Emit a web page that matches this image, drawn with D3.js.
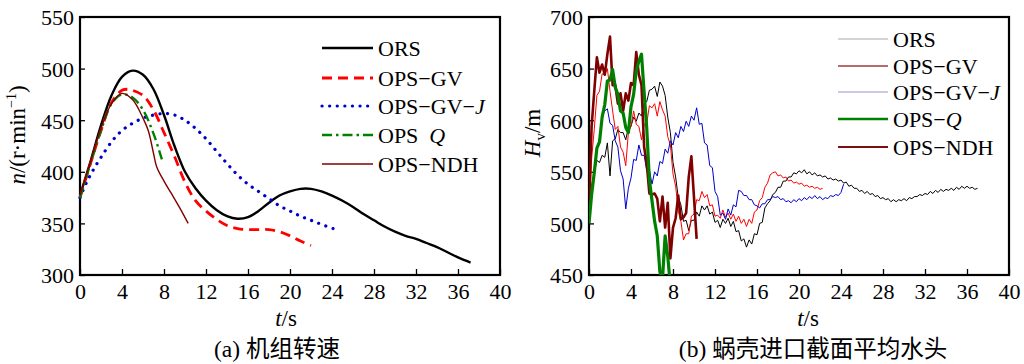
<!DOCTYPE html>
<html><head><meta charset="utf-8">
<script src="https://cdn.jsdelivr.net/npm/d3@7"></script>
<style>
body{margin:0;background:#fff;}
</style></head>
<body><svg id="c" width="1024" height="364"></svg>
<script>
// ---------- Data: panel (a) speed n (r/min) ----------
const xTicks = [0,4,8,12,16,20,24,28,32,36,40];
const nTicks = [300,350,400,450,500,550];
const hTicks = [450,500,550,600,650,700];

const ors_n_t = [0,1,2,3,4,5,6,7,8,9,10,11,12,13,14,15,16,17,18,19,20,21,22,23,24,25,26,27,28,29,30,31,32,33,34,35,36,37.2];
const ors_n   = [377,410,445,474,492,498,494,480,455,425,400,384,372,363,357,354.5,356,362,370,377,381,383.5,383.5,381,377,372,366,359,353,347,342,338,335,331,327,322,317,312];
const gv_n_t  = [0,1,2,3,4,4.5,5,6,7,8,9,10,11,12,13,14,15,16,17,18,19,20,21,22];
const gv_n    = [375,408,440,467,479,480,479,474,460,438,415,390,372,362,354,348,345,344,344,344,342,338,333,328.5];
const gvj_n_t = [0,0.5,1,1.5,2,3,4,5,6,7,8,9,10,11,12,13,14,15,16,17,18,19,20,21,22,23,24.1];
const gvj_n   = [375,387,397,406,414,429,440,447,452,455,456.5,455,450,442,432,420,408,397,388,381,374,367,362,357,353,349,345];
const q_n_t   = [0,1,2,3,4,5,6,7,7.8];
const q_n     = [375,408,440,466,475,472,460,437,412];
const ndh_n_t = [0,1,2,3,4,5,6,6.5,7,7.3,8,8.7,9.5,10.3];
const ndh_n   = [377,410,442,466,476,470,452,440,418,405,391,379,365,350];

// ---------- Data: panel (b) head Hv (m), sampled every 0.25 s ----------
const dtH = 0.25;
const ors_h = [500,537,549,561,559,566,564,578,546,580,582,591,588,588,581,593,594,603,599,607,604,617,618,629,630,633,623,637,633,624,603,588,559,545,525,518,502,503,493,503,503,511,507,517,513,517,509,511,501,503,496,504,500,505,497,502,492,493,483,485,477,484,480,490,489,500,501,515,
  519,522,528,530,535,535,541,541,545,545,549,548,551,549,552,548,550,547,549,546,547,545,546,543,544,542,543,541,542,539,540,536,537,534,534,531,532,529,531,528,529,526,527,524,525,523,524,521,523,521,523,522,524,522,525,524,526,526,528,527,529,528,531,529,532,530,533,531,533,532,534,532,535,533,536,534,536,534,535,533,534];
const gv_h  = [500,563,591,624,628,645,644,650,628,609,591,594,574,569,556,588,594,609,596,594,581,596,597,614,612,616,604,618,610,604,584,576,548,536,512,502,484,490,490,507,509,523,522,531,525,528,517,518,507,508,505,513,506,510,504,509,502,507,500,504,497,504,500,511,
  513,522,525,535,539,547,549,550,546,547,544,545,541,542,539,540,538,539,536,537,535,536,534,535,533,534];
const gvj_h = [500,528,545,572,582,604,609,611,597,595,580,574,551,543,514,534,544,562,561,576,566,566,551,552,538,550,546,560,558,572,568,580,576,588,583,594,589,599,594,604,600,612,596,597,578,576,556,554,531,526,508,510,504,514,508,518,516,532,
  531,527,527,523,523,518,517,515,519,519,523,523,526,525,526,523,524,521,522,520,523,521,524,522,525,523,526,524,527,524,526,523,525,524,527,526,528,527,530,538];
const q_h   = [500,528,549,573,579,603,615,638,639,649,632,625,609,607,593,588,613,625,648,657,664,627,592,542,522,502,488,453,446,488,468,440];
const ndh_h = [520,594,628,661,646,654,644,664,681,634,634,616,626,609,626,619,636,634,666,644,634,574,558,529,528,529,524,502,526,496,520,466,496,505,527,504,506,510,545,565,525,485];

const legendA = ["ORS","OPS−GV","OPS−GV−J","OPS  Q","OPS−NDH"];
const legendB = ["ORS","OPS−GV","OPS−GV−J","OPS−Q","OPS−NDH"];

const SERIF = "'Liberation Serif', 'Times New Roman', serif";
const CJK = "'Noto Sans CJK SC', sans-serif";
const svg = d3.select("#c");

function panel(x0,x1,yDom,yTicks){
  const x = d3.scaleLinear().domain([0,40]).range([x0,x1]);
  const y = d3.scaleLinear().domain(yDom).range([275,17]);
  const g = svg.append("g");
  g.append("g").attr("transform","translate(0,275)")
    .call(d3.axisBottom(x).tickValues(xTicks).tickSize(-6).tickPadding(12).tickFormat(d3.format("d")))
    .call(a=>{a.attr("font-family",null).attr("font-size",null);a.select(".domain").remove();
      a.selectAll("line").attr("stroke","#000").attr("stroke-width",1.3);
      a.selectAll("text").attr("font-size",22).attr("dy","0.55em");});
  g.append("g").attr("transform",`translate(${x0},0)`)
    .call(d3.axisLeft(y).tickValues(yTicks).tickSize(-5).tickPadding(6).tickFormat(d3.format("d")))
    .call(a=>{a.attr("font-family",null).attr("font-size",null);a.select(".domain").remove();
      a.selectAll("line").attr("stroke","#000").attr("stroke-width",1.3);
      a.selectAll("text").attr("font-size",22).attr("dy","0.36em");});
  g.append("rect").attr("x",x0).attr("y",17).attr("width",x1-x0).attr("height",258)
    .attr("fill","none").attr("stroke","#000").attr("stroke-width",2.2);
  return {x,y,g};
}

// ---------- Panel (a) ----------
const A = panel(80,500,[300,550],nTicks);
const lineA = (ts)=>d3.line().x((d,i)=>A.x(ts[i])).y(d=>A.y(d)).curve(d3.curveCatmullRom);
const seriesA = [
  {t:ors_n_t,v:ors_n,color:"#000",w:2.4,dash:null},
  {t:gv_n_t,v:gv_n,color:"#ff0000",w:2.8,dash:"10,6"},
  {t:gvj_n_t,v:gvj_n,color:"#0000cc",w:3.2,dash:"0.1,7.5",cap:"round"},
  {t:q_n_t,v:q_n,color:"#008000",w:2.4,dash:"10,4,2.5,4"},
  {t:ndh_n_t,v:ndh_n,color:"#800000",w:1.4,dash:null}
];
seriesA.forEach(s=>{
  A.g.append("path").attr("d",lineA(s.t)(s.v)).attr("fill","none").attr("stroke",s.color)
    .attr("stroke-width",s.w).attr("stroke-dasharray",s.dash).attr("stroke-linecap",s.cap||"butt");
});
const legYA=[48,78,106,135,164];
seriesA.forEach((s,i)=>{
  A.g.append("line").attr("x1",322).attr("x2",373).attr("y1",legYA[i]).attr("y2",legYA[i])
    .attr("stroke",s.color).attr("stroke-width",s.w).attr("stroke-dasharray",s.dash).attr("stroke-linecap",s.cap||"butt");
});
legendA.forEach((l,i)=>{
  const t=A.g.append("text").attr("x",378).attr("y",legYA[i]).attr("dy","0.35em").attr("font-size",22);
  if(l==="OPS−GV−J"){t.append("tspan").text("OPS−GV−");t.append("tspan").attr("font-style","italic").text("J");}
  else if(l==="OPS  Q"){t.append("tspan").text("OPS\u00a0\u00a0");t.append("tspan").attr("font-style","italic").text("Q");}
  else t.text(l);
});
const yl = svg.append("text").attr("transform","translate(25,135) rotate(-90)").attr("text-anchor","middle").attr("font-size",23);
yl.append("tspan").attr("font-style","italic").text("n");
yl.append("tspan").text("/(r·min");
yl.append("tspan").attr("font-size",14).attr("dy",-9).text("−1");
yl.append("tspan").attr("dy",9).text(")");
const xl = svg.append("text").attr("x",286).attr("y",326).attr("text-anchor","middle").attr("font-size",23);
xl.append("tspan").attr("font-style","italic").text("t");xl.append("tspan").text("/s");
const capA = svg.append("text").attr("x",277).attr("y",357).attr("text-anchor","middle").attr("font-size",23.5);
capA.append("tspan").text("(a) ");
capA.append("tspan").attr("class","cjk").text("机组转速");

// ---------- Panel (b) ----------
const B = panel(589,1009,[450,700],hTicks);
svg.append("clipPath").attr("id","clipB").append("rect").attr("x",589).attr("y",17).attr("width",420).attr("height",258);
const lineB = d3.line().x((d,i)=>B.x(i*dtH)).y(d=>B.y(d));
const seriesB = [
  {v:ors_h,color:"#000000",w:1},
  {v:gv_h,color:"#ff0000",w:1},
  {v:gvj_h,color:"#0000cc",w:1},
  {v:ndh_h,color:"#800000",w:2.6},
  {v:q_h,color:"#008000",w:3.2}
];
const gB = B.g.append("g").attr("clip-path","url(#clipB)");
seriesB.forEach(s=>{
  gB.append("path").attr("d",lineB(s.v)).attr("fill","none").attr("stroke",s.color)
    .attr("stroke-width",s.w).attr("stroke-linejoin","round");
});
const legColB=["#c4c4c4","#a03a3a","#b8b8e0","#008000","#7a1010"];
const legWB=[1.3,1.3,1.3,2.6,2.2];
const legYB=[39,66,92,119,147];
legendB.forEach((l,i)=>{
  B.g.append("line").attr("x1",838).attr("x2",888).attr("y1",legYB[i]).attr("y2",legYB[i])
    .attr("stroke",legColB[i]).attr("stroke-width",legWB[i]);
  const t=B.g.append("text").attr("x",893).attr("y",legYB[i]).attr("dy","0.35em").attr("font-size",22);
  if(l==="OPS−GV−J"){t.append("tspan").text("OPS−GV−");t.append("tspan").attr("font-style","italic").text("J");}
  else if(l==="OPS−Q"){t.append("tspan").text("OPS−");t.append("tspan").attr("font-style","italic").text("Q");}
  else t.text(l);
});
const yl2 = svg.append("text").attr("transform","translate(540,133) rotate(-90)").attr("text-anchor","middle").attr("font-size",23);
yl2.append("tspan").attr("font-style","italic").text("H");
yl2.append("tspan").attr("font-size",15).attr("dy",5).text("v");
yl2.append("tspan").attr("dy",-5).text("/m");
const xl2 = svg.append("text").attr("x",808).attr("y",326).attr("text-anchor","middle").attr("font-size",23);
xl2.append("tspan").attr("font-style","italic").text("t");xl2.append("tspan").text("/s");
const capB = svg.append("text").attr("x",813).attr("y",357).attr("text-anchor","middle").attr("font-size",23.5);
capB.append("tspan").text("(b) ");
capB.append("tspan").attr("class","cjk").text("蜗壳进口截面平均水头");

// fonts
svg.selectAll("text").style("font-family",SERIF).attr("fill","#000");
svg.selectAll("tspan.cjk").style("font-family",CJK);
</script></body></html>
